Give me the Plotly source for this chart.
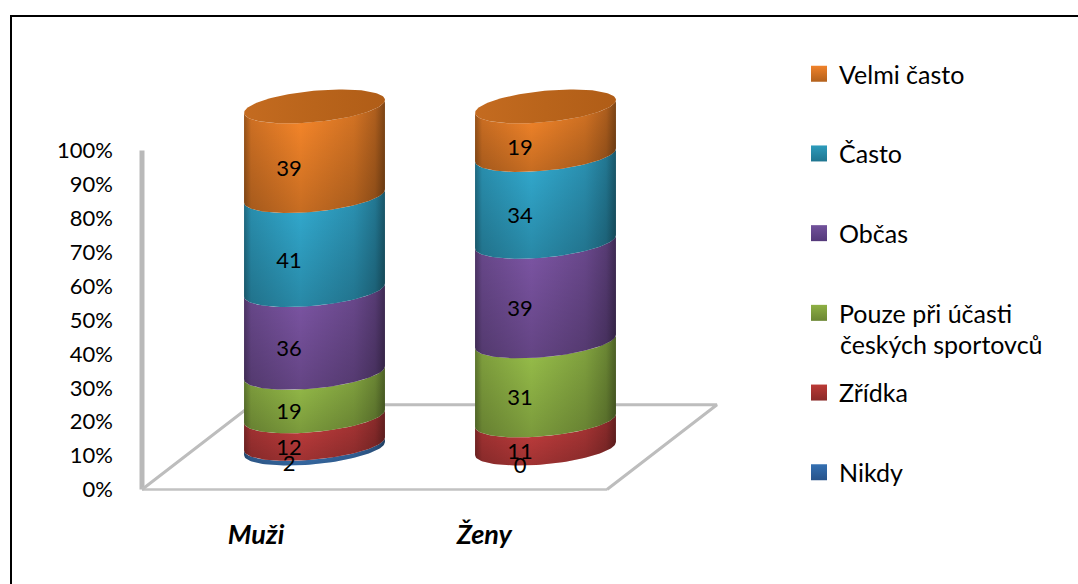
import numpy as np
import plotly.graph_objects as go

# Survey answers per respondent group (counts, stacked to 100 %)
groups = ["Muži", "Ženy"]
answers = ["Nikdy", "Zřídka", "Pouze při účasti", "Občas", "Často", "Velmi často"]
muzi = [2, 12, 19, 36, 41, 39]
zeny = [0, 11, 31, 39, 34, 19]
values = [muzi, zeny]
percent_ticks = [0, 10, 20, 30, 40, 50, 60, 70, 80, 90, 100]

# Colours per answer: highlight on the cylinder and legend swatch pair
peak = ["#4280c6", "#cc4040", "#9cc44c", "#7f57a8", "#33aed4", "#fd8a2b"]
swatch_top = ["#3470b2", "#bb3a36", "#8eb044", "#72529b", "#2d9cbc", "#f0822a"]
swatch_bottom = ["#27538a", "#8a2a28", "#6b8633", "#54397a", "#1f7590", "#b3611c"]

# Figure size and plot area in pixels; the 0 % level sits at ZERO_PX
W, H = 1078, 584
L, R, T, B = 130, 730, 80, 496
ZERO_PX = 489.5
PX_PER_UNIT_X = 231.0
PX_PER_UNIT_Y = 3.39
X0_PX = 314.5

# Cylinder projection, in axis units
RX = 0.305
TILT = 1.92
RY = 4.63
BASE = 12.1
STRETCH = 1.009
LABEL_BASE = 6.45
LABEL_SHIFT = -0.11

# Floor parallelogram, in axis units
FLOOR_WIDTH = 2.013
FLOOR_DX = 0.476
FLOOR_DY = 25.0
x_axis_pos = (142 - X0_PX) / PX_PER_UNIT_X
x_left = (L - X0_PX) / PX_PER_UNIT_X
x_right = (R - X0_PX) / PX_PER_UNIT_X
y_bottom = (ZERO_PX - B) / PX_PER_UNIT_Y
y_top = (ZERO_PX - T) / PX_PER_UNIT_Y

FONT = "Lato"


def shade(hex_color, f):
    r, g, b = (min(255, int(int(hex_color[i:i + 2], 16) * f)) for i in (1, 3, 5))
    return f"rgb({r},{g},{b})"


def arc(cx, level, t):
    y0 = BASE + level * STRETCH
    return cx + RX * np.cos(t), y0 + TILT * np.cos(t) - RY * np.sin(t)


fig = go.Figure()

# Back wall edge and floor outline
fig.add_trace(go.Scatter(x=[x_axis_pos, x_axis_pos], y=[0, 100], mode="lines",
                         line=dict(color="#b9b9b9", width=5),
                         showlegend=False, hoverinfo="skip"))
fig.add_trace(go.Scatter(x=[x_axis_pos, x_axis_pos + FLOOR_WIDTH], y=[0, 0], mode="lines",
                         line=dict(color="#c2c2c2", width=2.5),
                         showlegend=False, hoverinfo="skip"))
fig.add_trace(go.Scatter(
    x=[x_axis_pos, x_axis_pos + FLOOR_DX, x_axis_pos + FLOOR_DX + FLOOR_WIDTH, x_axis_pos + FLOOR_WIDTH],
    y=[0, FLOOR_DY, FLOOR_DY, 0], mode="lines",
    line=dict(color="#bdbdbd", width=3),
    showlegend=False, hoverinfo="skip"))

# Stacked cylinders: each band runs between the front arcs of two cumulative levels
front = np.linspace(0, np.pi, 60)
for gi, row in enumerate(values):
    total = sum(row)
    levels = np.concatenate([[0], np.cumsum(row)]) / total * 100
    for ai, (v, lo, hi) in enumerate(zip(row, levels[:-1], levels[1:])):
        if v == 0:
            continue
        x_lo, y_lo = arc(gi, lo, front)
        x_hi, y_hi = arc(gi, hi, front[::-1])
        xs = np.concatenate([x_lo, x_hi, x_lo[:1]])
        ys = np.concatenate([y_lo, y_hi, y_lo[:1]])
        c = peak[ai]
        fig.add_trace(go.Scatter(
            x=xs, y=ys, mode="lines", line=dict(width=0), fill="toself",
            fillgradient=dict(type="horizontal", colorscale=[
                [0, shade(c, 0.62)], [0.05, shade(c, 0.84)], [0.40, shade(c, 1.0)],
                [0.78, shade(c, 0.85)], [0.93, shade(c, 0.70)], [1, shade(c, 0.5)]]),
            showlegend=False, hoverinfo="skip"))
        fig.add_trace(go.Scatter(
            x=xs, y=ys, mode="lines", line=dict(width=0), fill="toself",
            fillgradient=dict(type="vertical", colorscale=[
                [0, "rgba(0,0,0,0.22)"], [1, "rgba(0,0,0,0)"]]),
            showlegend=False, hoverinfo="skip"))
    # Lid of the stack
    lid = np.linspace(0, 2 * np.pi, 120)
    x_lid, y_lid = arc(gi, 100, lid)
    fig.add_trace(go.Scatter(
        x=x_lid, y=y_lid, mode="lines", line=dict(width=0), fill="toself",
        fillgradient=dict(type="horizontal", colorscale=[
            [0, "#c46b20"], [0.5, "#b9641b"], [1, "#b05d17"]]),
        showlegend=False, hoverinfo="skip"))
    # Value labels
    mids = (levels[:-1] + levels[1:]) / 2
    fig.add_trace(go.Scatter(
        x=[gi + LABEL_SHIFT] * len(row), y=LABEL_BASE + mids * STRETCH,
        text=[str(v) for v in row], mode="text", textposition="middle center",
        textfont=dict(family=FONT, size=22, color="#000000"),
        cliponaxis=False, showlegend=False, hoverinfo="skip"))

# Legend entries, top to bottom
for ai in reversed(range(len(answers))):
    fig.add_trace(go.Scatter(
        x=[None], y=[None], mode="markers", name=answers[ai], legendgroup=answers[ai],
        marker=dict(symbol="square", size=16, color=swatch_top[ai],
                    gradient=dict(type="vertical", color=swatch_bottom[ai]))))

px_to_paper_x = lambda px: (px - L) / (R - L)
px_to_paper_y = lambda py: (B - py) / (B - T)

fig.update_layout(
    width=W, height=H, autosize=False,
    margin=dict(l=L, r=W - R, t=T, b=H - B, pad=0),
    paper_bgcolor="white", plot_bgcolor="rgba(0,0,0,0)",
    font=dict(family=FONT, size=25, color="#000000"),
    xaxis=dict(range=[x_left, x_right], showgrid=False, zeroline=False, showline=False,
               tickmode="array", tickvals=[-0.253, 0.735], ticktext=groups,
               ticks="", ticklabelstandoff=20,
               tickfont=dict(family=FONT, size=27, weight="bold", style="italic")),
    yaxis=dict(range=[y_bottom, y_top], showgrid=False, zeroline=False, showline=False,
               tickmode="array", tickvals=percent_ticks,
               ticktext=[f"{t}%" for t in percent_ticks],
               ticks="", ticklabelstandoff=16,
               tickfont=dict(family=FONT, size=22)),
    legend=dict(x=px_to_paper_x(799), y=px_to_paper_y(51), xanchor="left", yanchor="top",
                traceorder="grouped", tracegroupgap=44.2, itemclick=False, itemdoubleclick=False,
                maxheight=520, bgcolor="rgba(0,0,0,0)", font=dict(family=FONT, size=25)),
    shapes=[
        dict(type="line", xref="paper", yref="paper",
             x0=px_to_paper_x(11), x1=px_to_paper_x(W), y0=px_to_paper_y(16), y1=px_to_paper_y(16),
             line=dict(color="#000000", width=2), layer="below"),
        dict(type="line", xref="paper", yref="paper",
             x0=px_to_paper_x(11), x1=px_to_paper_x(11), y0=px_to_paper_y(15), y1=px_to_paper_y(H),
             line=dict(color="#000000", width=2), layer="below"),
    ],
    annotations=[dict(xref="paper", yref="paper", x=px_to_paper_x(838), y=px_to_paper_y(344),
                      xanchor="left", yanchor="middle", text="českých sportovců", showarrow=False,
                      font=dict(family=FONT, size=25))],
)

fig.write_html("out.html")
